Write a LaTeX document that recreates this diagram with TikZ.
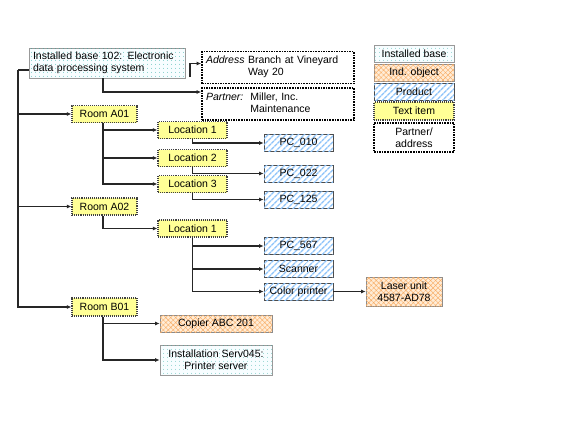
\documentclass[tikz,border=0pt]{standalone}
\usepackage{fontspec}
\setmainfont{Liberation Sans}
\usetikzlibrary{arrows.meta,patterns.meta}
\definecolor{tiyellow}{RGB}{255,255,150}
\definecolor{prblue}{RGB}{140,195,250}
\definecolor{ioorange}{RGB}{255,236,214}
\definecolor{iolines}{RGB}{248,172,100}
\definecolor{ibdots}{RGB}{40,170,160}
\begin{document}
\begin{tikzpicture}[x=1pt,y=-1pt,
  font=\fontsize{10.5}{12}\selectfont,
  box/.style={inner sep=2pt, anchor=center, minimum height=17pt},
  ibase/.style={box, draw=gray!80, line width=0.6pt, fill=cyan!3,
    postaction={pattern={Dots[distance=4pt,radius=0.45pt]}, pattern color=ibdots}},
  indobj/.style={box, draw=gray!90, line width=0.6pt, fill=ioorange,
    postaction={pattern={Hatch[angle=45,distance=3.5pt,line width=0.4pt]}, pattern color=iolines}},
  product/.style={box, draw=gray!60!black, line width=0.7pt, fill=white,
    postaction={pattern={Lines[angle=45,distance=4pt,line width=1.4pt]}, pattern color=prblue}},
  textitem/.style={box, draw=black!75, densely dotted, line width=1.1pt, fill=tiyellow},
  partner/.style={box, draw=black, densely dotted, line width=1.6pt, fill=white},
  conn/.style={draw=black!85, line width=1.4pt},
  arr/.style={conn, -{Latex[length=4.5pt,width=4pt]}}
]
\useasboundingbox (0,0) rectangle (566,424);

% main installed base
\node[ibase, minimum width=156pt, minimum height=30pt, text width=148pt, align=left, inner sep=4pt]
  (ib) at (107,63) {Installed base 102: Electronic\\data processing system};
\node[partner, minimum width=152pt, minimum height=31pt, text width=144pt, align=left, inner sep=4pt]
  (addr) at (278,67.5) {\begin{tabular}{@{}l@{\ }l@{}}\textit{Address} & Branch at Vineyard\\ & Way 20\end{tabular}};
\node[partner, minimum width=152pt, minimum height=32pt, text width=144pt, align=left, inner sep=4pt]
  (partn) at (278,104) {\begin{tabular}{@{}l@{\ \ }l@{}}\textit{Partner:} & Miller, Inc.\\ & Maintenance\end{tabular}};

% legend
\node[ibase, minimum width=80pt, minimum height=17pt] (lib) at (414,53.5) {Installed base};
\node[indobj, minimum width=80pt, minimum height=17pt] (lio) at (414,72.5) {Ind. object};
\node[product, minimum width=80pt, minimum height=17pt] (lpr) at (414,91.5) {Product};
\node[textitem, minimum width=80pt, minimum height=18pt] (lti) at (414,111) {Text item};
\node[partner, minimum width=80pt, minimum height=29pt, align=center] (lpa) at (414,137.5) {Partner/\\address};

% rooms
\node[textitem, minimum width=65pt] (rA01) at (104.5,114) {Room A01};
\node[textitem, minimum width=65pt] (rA02) at (104.5,206.5) {Room A02};
\node[textitem, minimum width=65pt, minimum height=18pt] (rB01) at (104.5,307) {Room B01};

% locations
\node[textitem, minimum width=69pt] (loc1) at (192.5,130) {Location 1};
\node[textitem, minimum width=69pt] (loc2) at (192.5,158) {Location 2};
\node[textitem, minimum width=69pt] (loc3) at (192.5,184) {Location 3};
\node[textitem, minimum width=69pt] (locB) at (192.5,228.5) {Location 1};

% products
\node[product, minimum width=69pt] (pc010) at (298.5,143) {PC\_010};
\node[product, minimum width=69pt] (pc022) at (298.5,173.5) {PC\_022};
\node[product, minimum width=69pt] (pc125) at (298.5,199.5) {PC\_125};
\node[product, minimum width=69pt] (pc567) at (298.5,246) {PC\_567};
\node[product, minimum width=69pt] (scan) at (298.5,269) {Scanner};
\node[product, minimum width=69pt] (cpr) at (298.5,291.5) {Color printer};

% individual objects
\node[indobj, minimum width=76pt, minimum height=29pt, align=center] (laser) at (404,291.5) {Laser unit\\4587-AD78};
\node[indobj, minimum width=112pt] (copier) at (216,323.5) {Copier ABC 201};
\node[ibase, minimum width=112pt, minimum height=30pt, align=center] (inst) at (216,360) {Installation Serv045:\\Printer server};

% connectors from installed base
\coordinate (tr) at (18,70);
\coordinate (ia) at (190,77);
\draw[conn] (ib.west |- tr) -- (tr);
\draw[arr] (tr) |- (rA01.west);
\draw[arr] (tr) |- (rA02.west);
\draw[arr] (tr) |- (rB01.west);
\draw[arr] (ia) |- ([yshift=4pt]addr.west);
\draw[arr] ([xshift=-4pt]ib.south) |- ([yshift=12pt]partn.west);

% room A01
\draw[arr] ([xshift=-1.5pt]rA01.south) |- (loc1.west);
\draw[arr] ([xshift=-1.5pt]rA01.south) |- (loc2.west);
\draw[arr] ([xshift=-1.5pt]rA01.south) |- (loc3.west);
\draw[arr] (loc1.south) |- (pc010.west);
\draw[arr] (loc2.south) |- (pc022.west);
\draw[arr] (loc3.south) |- (pc125.west);

% room A02
\draw[arr] ([xshift=-1.5pt]rA02.south) |- (locB.west);
\draw[arr] (locB.south) |- (pc567.west);
\draw[arr] (locB.south) |- (scan.west);
\draw[arr] (locB.south) |- (cpr.west);
\draw[arr] (cpr.east) -- (laser.west);

% room B01
\draw[arr] ([xshift=-1.5pt]rB01.south) |- (copier.west);
\draw[arr] ([xshift=-1.5pt]rB01.south) |- (inst.west);
\end{tikzpicture}
\end{document}
